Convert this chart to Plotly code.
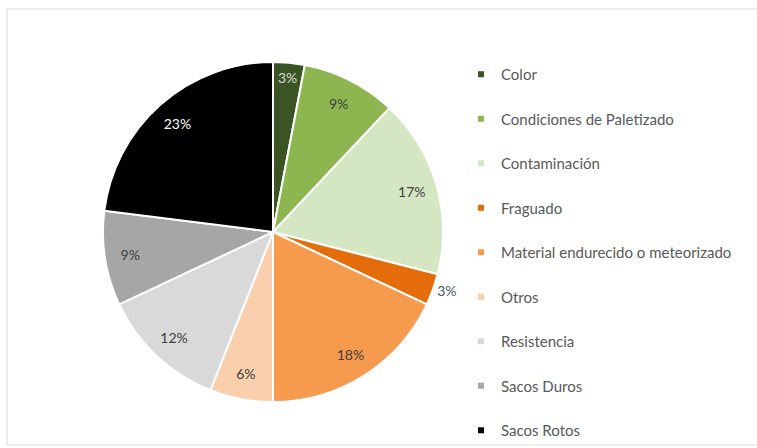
import plotly.graph_objects as go

categories = ["Color", "Condiciones de Paletizado", "Contaminación", "Fraguado",
              "Material endurecido o meteorizado", "Otros", "Resistencia",
              "Sacos Duros", "Sacos Rotos"]
values = [3, 9, 17, 3, 18, 6, 12, 9, 23]
colors = ["#3A5424", "#8DB651", "#D5E6C3", "#E46C0A", "#F69A4E",
          "#F9CFAE", "#D9D9D9", "#A6A6A6", "#000000"]
text_colors = ["#D9D9D9", "#404040", "#404040", "#44546A", "#404040",
               "#404040", "#404040", "#404040", "#FFFFFF"]
outside = [False, False, False, True, False, False, False, False, False]

W, H = 757, 448
cx, cy, r = 273, 232, 170
dom = dict(x=[(cx - r) / W, (cx + r) / W], y=[(H - cy - r) / H, (H - cy + r) / H])

fig = go.Figure()
# base pie (slices + outside labels)
fig.add_trace(go.Pie(
    labels=categories, values=values, sort=False, direction="clockwise",
    rotation=0,
    marker=dict(colors=colors, line=dict(color="white", width=2)),
    texttemplate=["%{percent:.0%}" if o else "" for o in outside],
    textposition="outside",
    textfont=dict(family="Lato", size=14, color=text_colors),
    showlegend=False, hoverinfo="label+percent", domain=dom,
))
# transparent ring overlay carrying the inside labels near the rim
fig.add_trace(go.Pie(
    labels=categories, values=values, sort=False, direction="clockwise",
    rotation=0, hole=0.70,
    marker=dict(colors=["rgba(0,0,0,0)"] * len(values),
                line=dict(color="rgba(0,0,0,0)", width=0)),
    texttemplate=["" if o else "%{percent:.0%}" for o in outside],
    textposition="inside", insidetextorientation="horizontal",
    textfont=dict(family="Lato", size=14, color=text_colors),
    showlegend=False, hoverinfo="skip", domain=dom,
))

for i, (c, col) in enumerate(zip(categories, colors)):
    fig.add_trace(go.Scatter(
        x=[None], y=[None], mode="markers", name=c, legendgroup=f"g{i}",
        marker=dict(symbol="square", size=6, color=col),
        showlegend=True, hoverinfo="skip",
    ))

fig.update_layout(
    width=W, height=H,
    margin=dict(l=0, r=0, t=0, b=0),
    paper_bgcolor="white", plot_bgcolor="white",
    xaxis=dict(visible=False), yaxis=dict(visible=False),
    legend=dict(x=461 / W, y=1 - 58 / H, xanchor="left", yanchor="top",
                font=dict(family="Lato", size=15, color="#595959"),
                tracegroupgap=22, itemwidth=30, bgcolor="rgba(0,0,0,0)"),
    shapes=[dict(type="rect", xref="paper", yref="paper",
                 x0=7 / W, x1=1.01, y0=1 - 445 / H, y1=1 - 9 / H,
                 line=dict(color="#D9D9D9", width=1), layer="below")],
)

fig.write_html("out.html", config={"displayModeBar": False},
               post_script="document.body.style.margin='0px';")
